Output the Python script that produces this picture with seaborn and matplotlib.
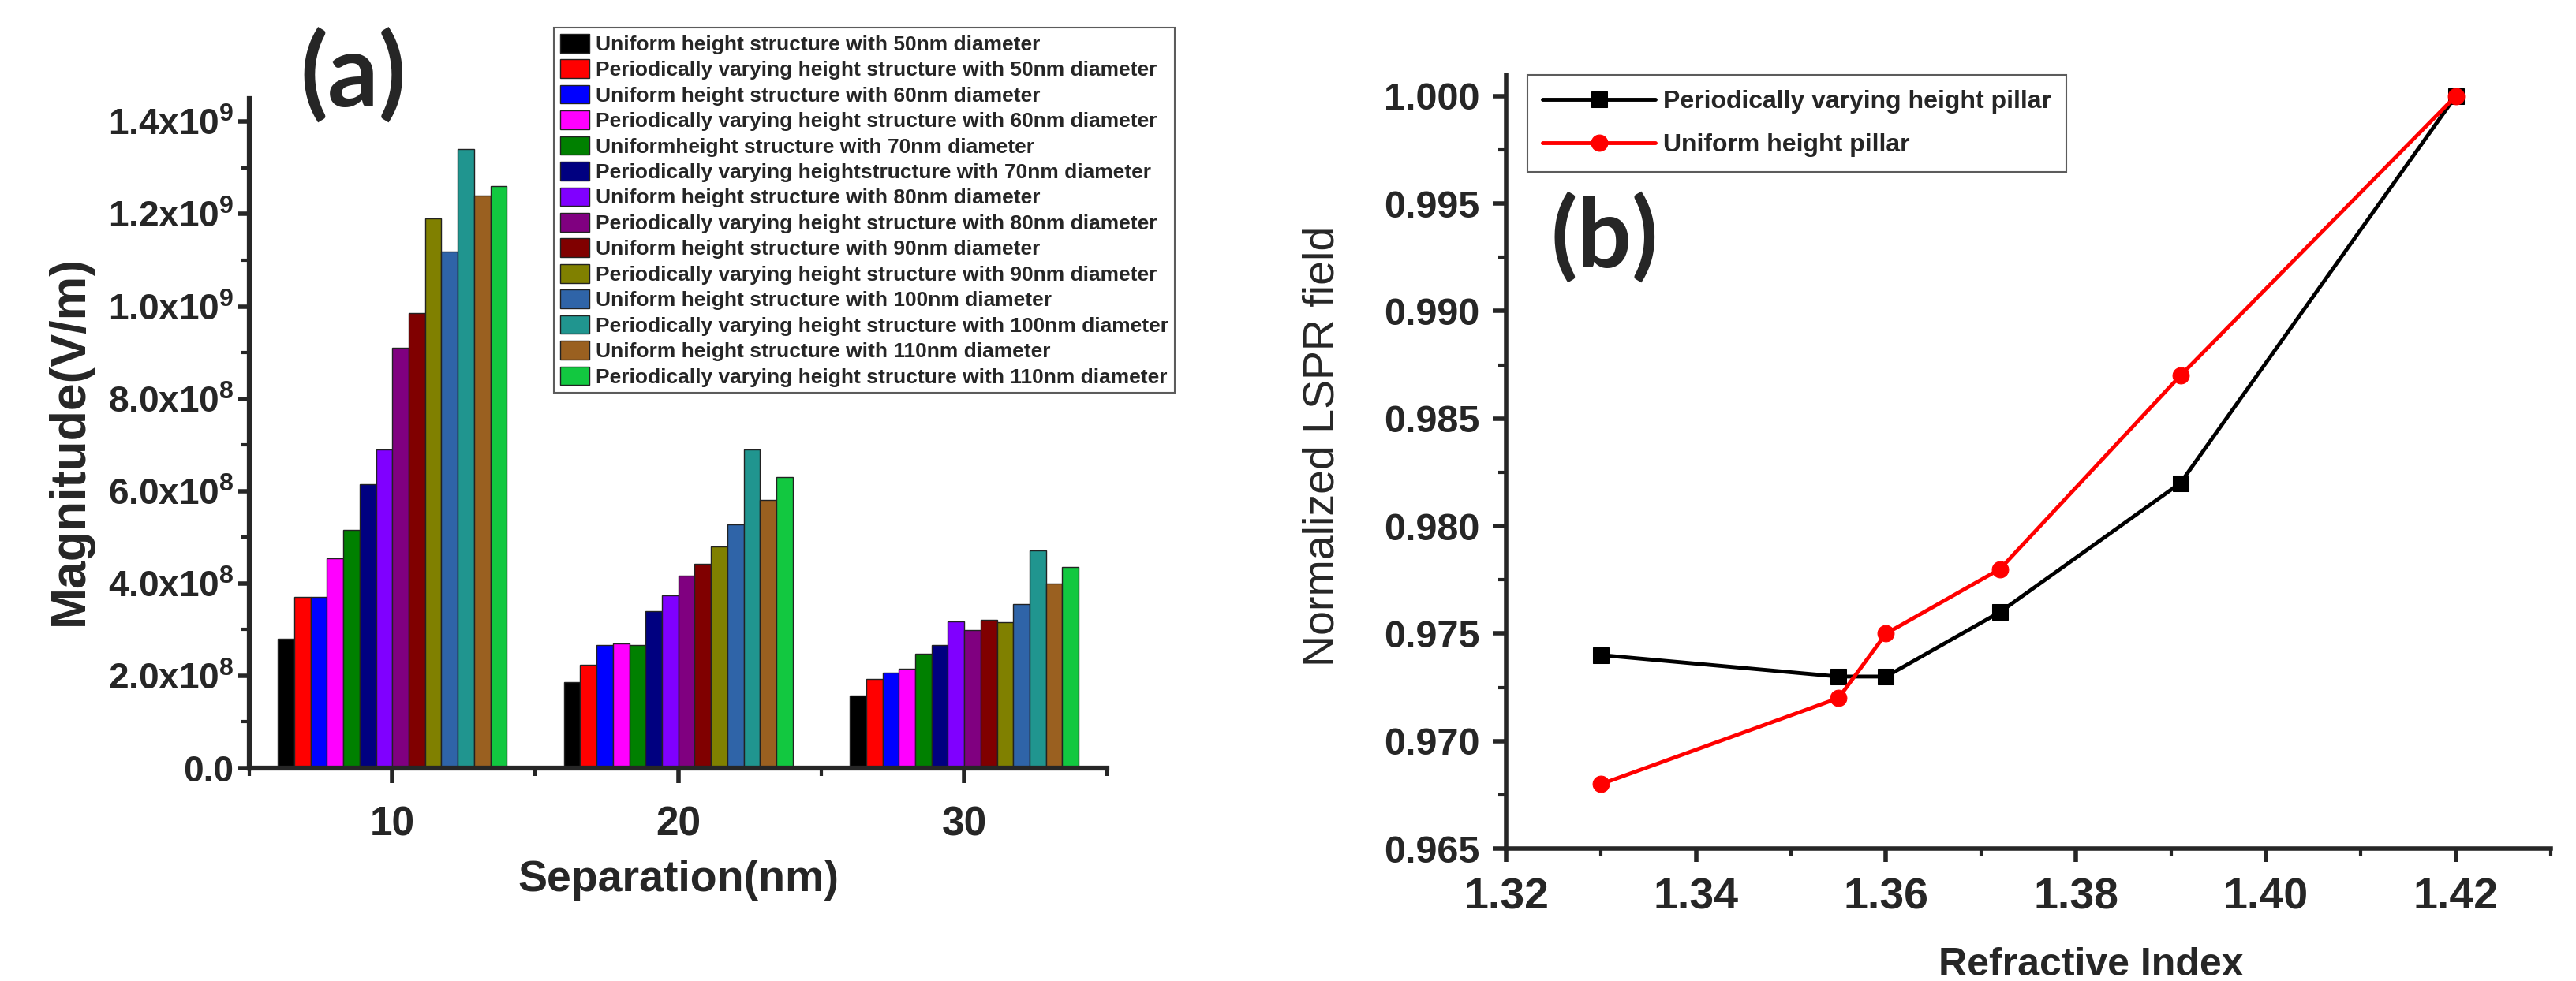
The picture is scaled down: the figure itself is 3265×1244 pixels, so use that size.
import numpy as np
import pandas as pd
import seaborn as sns
import matplotlib.pyplot as plt
from matplotlib.ticker import MultipleLocator, FixedLocator, FuncFormatter

# ---- panel (a) data ----
separations = [10, 20, 30]
structures = [
    'Uniform height structure with 50nm diameter',
    'Periodically varying height structure with 50nm diameter',
    'Uniform height structure with 60nm diameter',
    'Periodically varying height structure with 60nm diameter',
    'Uniformheight structure with 70nm diameter',
    'Periodically varying heightstructure with 70nm diameter',
    'Uniform height structure with 80nm diameter',
    'Periodically varying height structure with 80nm diameter',
    'Uniform height structure with 90nm diameter',
    'Periodically varying height structure with 90nm diameter',
    'Uniform height structure with 100nm diameter',
    'Periodically varying height structure with 100nm diameter',
    'Uniform height structure with 110nm diameter',
    'Periodically varying height structure with 110nm diameter',
]
bar_colors = ['#000000', '#ff0000', '#0000ff', '#ff00ff', '#008000', '#000080', '#8000ff',
              '#800080', '#800000', '#808000', '#2f64a8', '#20958f', '#9a6020', '#12c840']
# magnitude (V/m), one list per separation, in structure order
mag_sep10 = [2.80e8, 3.70e8, 3.70e8, 4.55e8, 5.15e8, 6.15e8, 6.90e8,
             9.10e8, 9.86e8, 11.90e8, 11.18e8, 13.40e8, 12.40e8, 12.60e8]
mag_sep20 = [1.86e8, 2.24e8, 2.66e8, 2.70e8, 2.66e8, 3.40e8, 3.74e8,
             4.17e8, 4.43e8, 4.80e8, 5.27e8, 6.90e8, 5.80e8, 6.30e8]
mag_sep30 = [1.58e8, 1.93e8, 2.06e8, 2.15e8, 2.47e8, 2.66e8, 3.17e8,
             2.99e8, 3.22e8, 3.16e8, 3.55e8, 4.72e8, 4.00e8, 4.35e8]

# ---- panel (b) data ----
ri_periodic = [1.330, 1.355, 1.360, 1.372, 1.391, 1.420]
lspr_periodic = [0.974, 0.973, 0.973, 0.976, 0.982, 1.000]
ri_uniform = [1.330, 1.355, 1.360, 1.372, 1.391, 1.420]
lspr_uniform = [0.968, 0.972, 0.975, 0.978, 0.987, 1.000]

sns.set_style('ticks')
plt.rcParams['font.family'] = ['Liberation Sans', 'DejaVu Sans']
plt.rcParams['mathtext.fontset'] = 'custom'
plt.rcParams['mathtext.rm'] = 'Liberation Sans:bold'
plt.rcParams['mathtext.bf'] = 'Liberation Sans:bold'
plt.rcParams['mathtext.default'] = 'bf'

rows = []
for sep, vals in zip(separations, [mag_sep10, mag_sep20, mag_sep30]):
    for name, v in zip(structures, vals):
        rows.append({'Separation': sep, 'Structure': name, 'Magnitude': v})
df_a = pd.DataFrame(rows)

fig = plt.figure(figsize=(32.65, 12.44), dpi=100)
ax1 = fig.add_axes([0.0968, 0.217, 0.333, 0.6825])
ax2 = fig.add_axes([0.5847, 0.135, 0.4055, 0.789])

sns.barplot(data=df_a, x='Separation', y='Magnitude', hue='Structure', hue_order=structures,
            palette=bar_colors, native_scale=True, saturation=1, width=0.8,
            edgecolor='#222222', linewidth=1, ax=ax1)
ax1.set_xlim(5, 35)
ax1.set_ylim(0, 1.45e9)
ax1.xaxis.set_major_locator(FixedLocator(separations))
ax1.xaxis.set_minor_locator(FixedLocator([5, 15, 25, 35]))
ax1.yaxis.set_major_locator(MultipleLocator(2e8))
ax1.yaxis.set_minor_locator(MultipleLocator(1e8))


def sci_fmt(v, pos):
    if v <= 0:
        return '0.0' if abs(v) < 1 else ''
    e = int(np.floor(np.log10(v)))
    return r'$%.1fx10^{%d}$' % (v / 10 ** e, e)


ax1.yaxis.set_major_formatter(FuncFormatter(sci_fmt))
ax1.xaxis.set_major_formatter(FuncFormatter(lambda v, p: '%d' % v))
ax1.set_xlabel('Separation(nm)', fontsize=40, fontweight='bold', labelpad=14)
ax1.set_ylabel('Magnitude(V/m)', fontsize=45, fontweight='bold')
ax1.yaxis.set_label_coords(-0.182, 0.49)
ax1.tick_params(axis='y', which='major', labelsize=33, width=4, length=10, pad=4)
ax1.tick_params(axis='x', which='major', labelsize=37, width=4, length=14, pad=20)
ax1.tick_params(axis='both', which='minor', width=3, length=7)
for lab in ax1.get_xticklabels() + ax1.get_yticklabels():
    lab.set_fontweight('bold')
for s in ['top', 'right']:
    ax1.spines[s].set_visible(False)
for s in ['left', 'bottom']:
    ax1.spines[s].set_linewidth(4.5)

sns.move_legend(ax1, loc='upper left', bbox_to_anchor=(0.355, 1.106), borderaxespad=0,
                title=None, frameon=True, fancybox=False, edgecolor='#333333',
                prop={'weight': 'bold', 'size': 19}, handlelength=1.4, handleheight=1.0,
                labelspacing=0.25, handletextpad=0.3, borderpad=0.3)
ax1.get_legend().get_frame().set_linewidth(1.5)

# ---- panel (b) ----
sns.lineplot(x=ri_periodic, y=lspr_periodic, color='black', marker='s', markersize=15,
             markeredgecolor='black', linewidth=3.5, label='Periodically varying height pillar', ax=ax2)
sns.lineplot(x=ri_uniform, y=lspr_uniform, color='red', marker='o', markersize=15,
             markeredgecolor='red', linewidth=3.5, label='Uniform height pillar', ax=ax2)
ax2.set_xlim(1.32, 1.43)
ax2.set_ylim(0.965, 1.001)
ax2.xaxis.set_major_locator(FixedLocator([1.32, 1.34, 1.36, 1.38, 1.40, 1.42]))
ax2.xaxis.set_minor_locator(FixedLocator([1.33, 1.35, 1.37, 1.39, 1.41, 1.43]))
ax2.yaxis.set_major_locator(MultipleLocator(0.005))
ax2.yaxis.set_minor_locator(MultipleLocator(0.0025))
ax2.xaxis.set_major_formatter(FuncFormatter(lambda v, p: '%.2f' % v))
ax2.yaxis.set_major_formatter(FuncFormatter(lambda v, p: '%.3f' % v))
ax2.tick_params(axis='y', which='major', labelsize=35, width=4, length=12, pad=12)
ax2.tick_params(axis='x', which='major', labelsize=40, width=4, length=12, pad=14)
ax2.tick_params(axis='both', which='minor', width=3, length=7)
for lab in ax2.get_xticklabels() + ax2.get_yticklabels():
    lab.set_fontweight('bold')
ax2.set_xlabel('Refractive Index', fontsize=36, fontweight='bold')
ax2.xaxis.set_label_coords(0.56, -0.127)
ax2.set_ylabel('Normalized LSPR field', fontsize=40)
ax2.yaxis.set_label_coords(-0.156, 0.52)
for s in ['top', 'right']:
    ax2.spines[s].set_visible(False)
for s in ['left', 'bottom']:
    ax2.spines[s].set_linewidth(4)
leg = ax2.legend(loc='upper left', bbox_to_anchor=(0.02, 1.0), borderaxespad=0, fancybox=False,
                 edgecolor='#333333', prop={'weight': 'bold', 'size': 23}, handlelength=4.5,
                 labelspacing=0.8, borderpad=0.6, handletextpad=0.3)
leg.get_frame().set_linewidth(1.5)

fig.text(448 / 3265, 1 - 97 / 1244, '(a)', fontsize=92, fontweight='bold', family='Lato',
         ha='center', va='center')
fig.text(2034 / 3265, 1 - 302 / 1244, '(b)', fontsize=88, fontweight='bold', family='Lato',
         ha='center', va='center')

fig.savefig('out.png', dpi=100)
